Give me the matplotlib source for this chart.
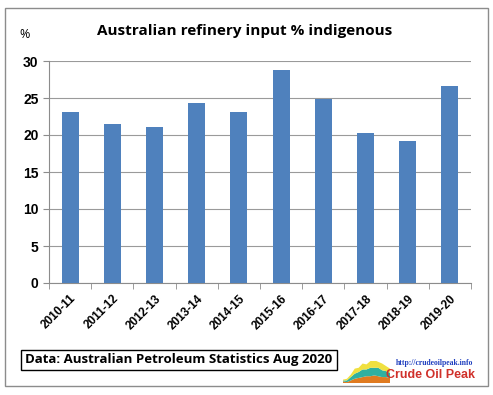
import matplotlib.pyplot as plt
import numpy as np
from matplotlib.patches import Rectangle

years = ['2010-11', '2011-12', '2012-13', '2013-14', '2014-15',
         '2015-16', '2016-17', '2017-18', '2018-19', '2019-20']
share = [23.1, 21.5, 21.1, 24.3, 23.1, 28.8, 24.9, 20.3, 19.2, 26.6]

# little logo area chart
logo_x = [0, 1, 2, 3, 4, 5, 6, 7, 8, 9, 10, 11, 12]
logo_a = [0.1, 0.2, 0.3, 0.6, 0.5, 0.7, 0.6, 0.8, 0.9, 0.7, 0.8, 0.6, 0.5]
logo_b = [0.1, 0.2, 0.4, 0.6, 0.7, 0.9, 0.8, 1.0, 0.9, 1.0, 0.8, 0.7, 0.6]
logo_c = [0.2, 0.1, 0.3, 0.5, 0.6, 0.7, 0.8, 0.8, 0.9, 0.8, 0.7, 0.7, 0.6]

fig = plt.figure(figsize=(4.93, 3.95), dpi=100)
fig.patches.append(Rectangle((5 / 493, 1 - 386 / 395), 483 / 493, 378 / 395,
                             transform=fig.transFigure, fill=False,
                             ec='#8c8c8c', lw=1))

ax = fig.add_axes([49 / 493, 1 - 283 / 395, 422 / 493, 222 / 395])
x = np.arange(len(years))
ax.bar(x, share, width=0.4, color='#4f81bd', zorder=3)
ax.set_xlim(-0.5, len(years) - 0.5)
ax.set_ylim(0, 30)
ax.set_yticks(range(0, 31, 5))
ax.grid(axis='y', color='#9a9a9a', lw=0.8, zorder=0)
for s in ['top', 'right']:
    ax.spines[s].set_visible(False)
for s in ['left', 'bottom']:
    ax.spines[s].set_color('#8c8c8c')
ax.set_xticks(x)
ax.set_xticklabels(years, rotation=45, ha='right', rotation_mode='anchor',
                   fontsize=8.5, fontweight='bold', family='Liberation Sans')
ax.tick_params(axis='x', which='major', length=0, pad=7)
ax.set_xticks(np.arange(-0.5, len(years)), minor=True)
ax.tick_params(axis='x', which='minor', length=4, color='#8c8c8c')
ax.tick_params(axis='y', length=4, color='#8c8c8c', labelsize=10)
for lab in ax.get_yticklabels():
    lab.set_fontweight('bold')
    lab.set_family('Liberation Sans')

fig.text(245 / 493, 1 - 31 / 395, 'Australian refinery input % indigenous',
         ha='center', va='center', fontsize=11, fontweight='bold',
         family='Open Sans')
fig.text(25 / 493, 1 - 35 / 395, '%', ha='center', va='center',
         fontsize=9, family='Open Sans')

fig.text(179 / 493, 1 - 360 / 395, 'Data: Australian Petroleum Statistics Aug 2020',
         ha='center', va='center', fontsize=9.5, fontweight='bold',
         family='Open Sans',
         bbox=dict(boxstyle='square,pad=0.3', fc='white', ec='black', lw=1))

lax = fig.add_axes([343 / 493, 1 - 383 / 395, 47 / 493, 22 / 395])
lax.stackplot(logo_x, logo_c, logo_b, logo_a,
              colors=['#e07b20', '#30b0a0', '#f0e040'])
lax.set_xlim(0, 12)
lax.set_ylim(0, 2.6)
lax.axis('off')
fig.text(435 / 493, 1 - 363 / 395, 'http://crudeoilpeak.info', ha='center',
         va='center', fontsize=5.5, fontweight='bold', color='#1f3fbf',
         family='Liberation Serif')
fig.text(430 / 493, 1 - 375 / 395, 'Crude Oil Peak', ha='center',
         va='center', fontsize=9, fontweight='bold', color='#d0302a',
         family='Liberation Sans')

fig.savefig('out.png', dpi=100)
